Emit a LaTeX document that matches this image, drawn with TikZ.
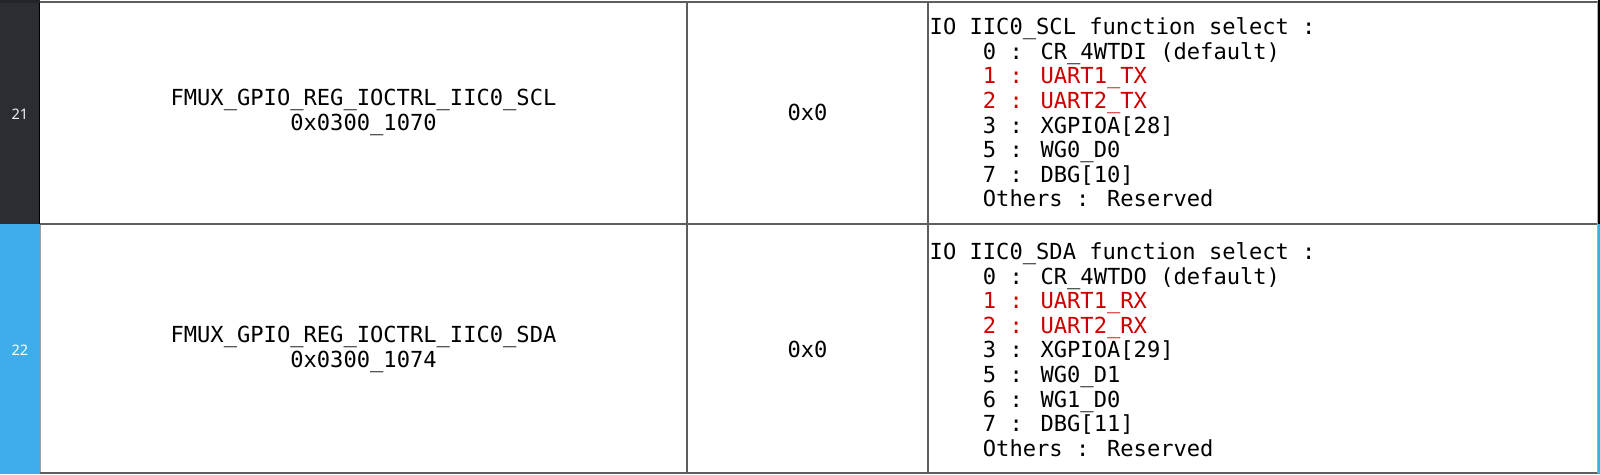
\documentclass[tikz,border=0pt]{standalone}
\usepackage{fontspec}
\newfontfamily\monof{DejaVu Sans Mono}
\newfontfamily\numf{Noto Sans}
\definecolor{stripdark}{HTML}{2A2E32}
\definecolor{stripblue}{HTML}{3DAEE9}
\definecolor{gridc}{HTML}{5E5E5E}
\definecolor{redt}{HTML}{CC0000}
\begin{document}
\begin{tikzpicture}[x=1pt,y=-1pt,
  cell/.style={inner sep=0pt,align=center,font={\monof\fontsize{22.1}{25}\selectfont}},
  desc/.style={inner sep=0pt,anchor=west,align=left,font={\monof\fontsize{22.1}{24.6}\selectfont}},
  rownum/.style={inner sep=0pt,font={\numf\fontsize{14.5}{16}\selectfont}},
  gridline/.style={draw=gridc,line width=2pt}]
\useasboundingbox (0,0) rectangle (1600,474);
\fill[white] (0,0) rectangle (1600,474);
% left strip
\fill[stripdark] (0,0) rectangle (40,224);
\fill[stripblue] (0,224) rectangle (40,474);
\draw[black,line width=1.5pt] (39.5,0) -- (39.5,224);
\draw[gridc!60,line width=1pt] (40,224) -- (40,474);
\fill[stripdark!80!black] (0,0) rectangle (40,3);
% grid
\draw[gridline] (40,2) -- (1598,2);
\draw[gridline] (40,224) -- (1598,224);
\draw[gridline] (40,473) -- (1598,473);
\draw[gridc,line width=1.5pt] (687,2) -- (687,473);
\draw[gridc,line width=1.5pt] (928,2) -- (928,473);
\draw[gridc!50,line width=1pt] (1597.5,2) -- (1597.5,473);
\fill[black] (1598,0) rectangle (1600,224);
\fill[stripblue] (1598,224) rectangle (1600,474);
% row numbers
\node[rownum,text=white!90!gray] (n21) at (20,114) {21};
\node[rownum,text=white] (n22) at (20,350) {\bfseries 22};
% row 21
\node[cell] (r21) at (363.5,112.5) {FMUX\_GPIO\_REG\_IOCTRL\_IIC0\_SCL\\0x0300\_1070};
\node[cell] (v21) at (807.5,112.5) {0x0};
\node[desc] (d21) at (929.5,112.5) {IO IIC0\_SCL function select :\\
\phantom{0000}0 : CR\_4WTDI (default)\\
\phantom{0000}{\color{redt}1 : UART1\_TX}\\
\phantom{0000}{\color{redt}2 : UART2\_TX}\\
\phantom{0000}3 : XGPIOA[28]\\
\phantom{0000}5 : WG0\_D0\\
\phantom{0000}7 : DBG[10]\\
\phantom{0000}Others : Reserved};
% row 22
\node[cell] (r22) at (363.5,349.5) {FMUX\_GPIO\_REG\_IOCTRL\_IIC0\_SDA\\0x0300\_1074};
\node[cell] (v22) at (807.5,349.5) {0x0};
\node[desc] (d22) at (929.5,349.5) {IO IIC0\_SDA function select :\\
\phantom{0000}0 : CR\_4WTDO (default)\\
\phantom{0000}{\color{redt}1 : UART1\_RX}\\
\phantom{0000}{\color{redt}2 : UART2\_RX}\\
\phantom{0000}3 : XGPIOA[29]\\
\phantom{0000}5 : WG0\_D1\\
\phantom{0000}6 : WG1\_D0\\
\phantom{0000}7 : DBG[11]\\
\phantom{0000}Others : Reserved};
\end{tikzpicture}
\end{document}
